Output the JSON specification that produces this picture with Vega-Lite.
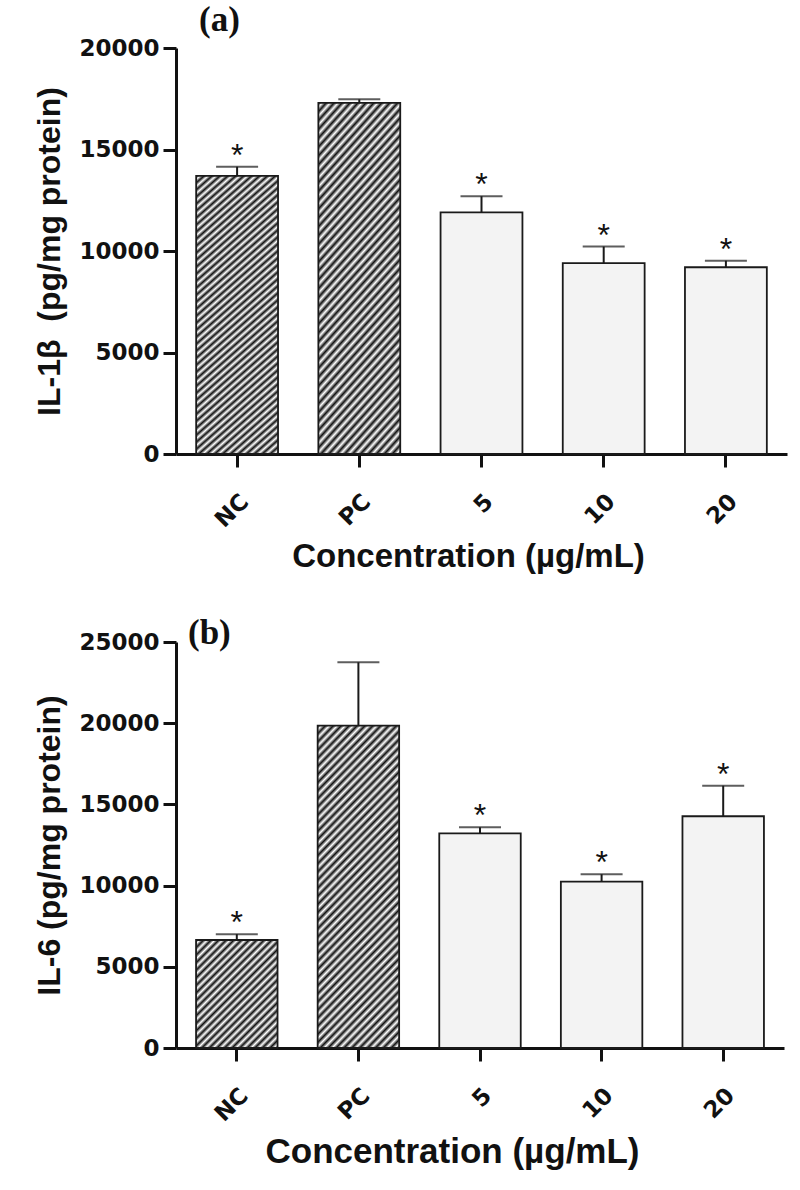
{
  "$schema": "https://vega.github.io/schema/vega-lite/v6.json",
  "padding": {"left": 33, "top": 3, "right": 5, "bottom": 5},
  "background": "white",
  "spacing": 42,
  "align": "none",
  "config": {
    "view": {"stroke": null},
    "font": "Liberation Sans",
    "axis": {"domainColor": "#111", "domainWidth": 3, "tickColor": "#111", "tickWidth": 3, "tickSize": 13, "grid": false, "labelFont": "DejaVu Sans", "labelFontWeight": "bold", "labelFontSize": 23, "labelColor": "#111", "titleFont": "Liberation Sans", "titleFontWeight": "bold", "titleColor": "#111"},
    "axisY": {"titleFontSize": 32, "labelPadding": 4, "titlePadding": 12, "format": "d"},
    "axisX": {"titleFontSize": 33, "labelAngle": -45, "labelPadding": 23, "titlePadding": 9}
  },
  "vconcat": [
    {
      "width": 611,
      "height": 406,
      "title": {"text": "(a)", "font": "Liberation Serif", "fontSize": 35, "fontWeight": "bold", "color": "#111", "anchor": "start", "frame": "group", "dx": 23, "offset": -29, "baseline": "alphabetic"},
      "data": {"values": [
        {"label": "NC", "type": "ctrl", "mean": 13700, "upper": 14150, "star": "*"},
        {"label": "PC", "type": "ctrl", "mean": 17300, "upper": 17470, "star": ""},
        {"label": "5", "type": "trt", "mean": 11900, "upper": 12700, "star": "*"},
        {"label": "10", "type": "trt", "mean": 9400, "upper": 10220, "star": "*"},
        {"label": "20", "type": "trt", "mean": 9200, "upper": 9520, "star": "*"}
      ]},
      "encoding": {
        "x": {"field": "label", "type": "nominal", "sort": ["NC", "PC", "5", "10", "20"], "scale": {"paddingInner": 0.33, "paddingOuter": 0.165}, "axis": {"title": "Concentration (µg/mL)", "titleX": 292}},
        "y": {"field": "mean", "type": "quantitative", "scale": {"domain": [0, 20000], "nice": false}, "axis": {"title": "IL-1β\u00a0\u00a0(pg/mg protein)", "values": [0, 5000, 10000, 15000, 20000]}}
      },
      "layer": [
        {"transform": [{"filter": "datum.type === 'ctrl'"}], "mark": {"type": "bar", "stroke": "#1a1a1a", "strokeWidth": 1.8, "fill": {"gradient": "linear", "x1": 0, "y1": 0, "x2": 0.3069, "y2": 1.1802, "stops": [
        {"offset":0,"color":"#111"},{"offset":0.01,"color":"#fff"},{"offset":0.02,"color":"#111"},{"offset":0.03,"color":"#fff"},{"offset":0.04,"color":"#111"},{"offset":0.05,"color":"#fff"},{"offset":0.06,"color":"#111"},{"offset":0.07,"color":"#fff"},{"offset":0.08,"color":"#111"},{"offset":0.09,"color":"#fff"},
        {"offset":0.1,"color":"#111"},{"offset":0.11,"color":"#fff"},{"offset":0.12,"color":"#111"},{"offset":0.13,"color":"#fff"},{"offset":0.14,"color":"#111"},{"offset":0.15,"color":"#fff"},{"offset":0.16,"color":"#111"},{"offset":0.17,"color":"#fff"},{"offset":0.18,"color":"#111"},{"offset":0.19,"color":"#fff"},
        {"offset":0.2,"color":"#111"},{"offset":0.21,"color":"#fff"},{"offset":0.22,"color":"#111"},{"offset":0.23,"color":"#fff"},{"offset":0.24,"color":"#111"},{"offset":0.25,"color":"#fff"},{"offset":0.26,"color":"#111"},{"offset":0.27,"color":"#fff"},{"offset":0.28,"color":"#111"},{"offset":0.29,"color":"#fff"},
        {"offset":0.3,"color":"#111"},{"offset":0.31,"color":"#fff"},{"offset":0.32,"color":"#111"},{"offset":0.33,"color":"#fff"},{"offset":0.34,"color":"#111"},{"offset":0.35,"color":"#fff"},{"offset":0.36,"color":"#111"},{"offset":0.37,"color":"#fff"},{"offset":0.38,"color":"#111"},{"offset":0.39,"color":"#fff"},
        {"offset":0.4,"color":"#111"},{"offset":0.41,"color":"#fff"},{"offset":0.42,"color":"#111"},{"offset":0.43,"color":"#fff"},{"offset":0.44,"color":"#111"},{"offset":0.45,"color":"#fff"},{"offset":0.46,"color":"#111"},{"offset":0.47,"color":"#fff"},{"offset":0.48,"color":"#111"},{"offset":0.49,"color":"#fff"},
        {"offset":0.5,"color":"#111"},{"offset":0.51,"color":"#fff"},{"offset":0.52,"color":"#111"},{"offset":0.53,"color":"#fff"},{"offset":0.54,"color":"#111"},{"offset":0.55,"color":"#fff"},{"offset":0.56,"color":"#111"},{"offset":0.57,"color":"#fff"},{"offset":0.58,"color":"#111"},{"offset":0.59,"color":"#fff"},
        {"offset":0.6,"color":"#111"},{"offset":0.61,"color":"#fff"},{"offset":0.62,"color":"#111"},{"offset":0.63,"color":"#fff"},{"offset":0.64,"color":"#111"},{"offset":0.65,"color":"#fff"},{"offset":0.66,"color":"#111"},{"offset":0.67,"color":"#fff"},{"offset":0.68,"color":"#111"},{"offset":0.69,"color":"#fff"},
        {"offset":0.7,"color":"#111"},{"offset":0.71,"color":"#fff"},{"offset":0.72,"color":"#111"},{"offset":0.73,"color":"#fff"},{"offset":0.74,"color":"#111"},{"offset":0.75,"color":"#fff"},{"offset":0.76,"color":"#111"},{"offset":0.77,"color":"#fff"},{"offset":0.78,"color":"#111"},{"offset":0.79,"color":"#fff"},
        {"offset":0.8,"color":"#111"},{"offset":0.81,"color":"#fff"},{"offset":0.82,"color":"#111"},{"offset":0.83,"color":"#fff"},{"offset":0.84,"color":"#111"},{"offset":0.85,"color":"#fff"},{"offset":0.86,"color":"#111"},{"offset":0.87,"color":"#fff"},{"offset":0.88,"color":"#111"},{"offset":0.89,"color":"#fff"},
        {"offset":0.9,"color":"#111"},{"offset":0.91,"color":"#fff"},{"offset":0.92,"color":"#111"},{"offset":0.93,"color":"#fff"},{"offset":0.94,"color":"#111"},{"offset":0.95,"color":"#fff"},{"offset":0.96,"color":"#111"},{"offset":0.97,"color":"#fff"},{"offset":0.98,"color":"#111"},{"offset":0.99,"color":"#fff"},
        {"offset":1,"color":"#111"}]}}},
        {"transform": [{"filter": "datum.type === 'trt'"}], "mark": {"type": "bar", "fill": "#f3f3f3", "stroke": "#1a1a1a", "strokeWidth": 1.8}},
        {"mark": {"type": "rule", "color": "#1a1a1a", "strokeWidth": 2}, "encoding": {"y2": {"field": "upper"}}},
        {"mark": {"type": "tick", "color": "#1a1a1a", "thickness": 2, "size": 42}, "encoding": {"y": {"field": "upper", "type": "quantitative"}}},
        {"mark": {"type": "text", "font": "Liberation Sans", "fontSize": 32, "color": "#111", "baseline": "alphabetic", "dy": -1}, "encoding": {"y": {"field": "upper", "type": "quantitative"}, "text": {"field": "star"}}}
      ]
    },
    {
      "width": 608,
      "height": 406,
      "title": {"text": "(b)", "font": "Liberation Serif", "fontSize": 35, "fontWeight": "bold", "color": "#111", "anchor": "start", "frame": "group", "dx": 12, "offset": -48, "baseline": "alphabetic"},
      "data": {"values": [
        {"label": "NC", "type": "ctrl2", "mean": 6650, "upper": 7010, "star": "*"},
        {"label": "PC", "type": "ctrl", "mean": 19850, "upper": 23750, "star": ""},
        {"label": "5", "type": "trt", "mean": 13220, "upper": 13590, "star": "*"},
        {"label": "10", "type": "trt", "mean": 10240, "upper": 10700, "star": "*"},
        {"label": "20", "type": "trt", "mean": 14270, "upper": 16150, "star": "*"}
      ]},
      "encoding": {
        "x": {"field": "label", "type": "nominal", "sort": ["NC", "PC", "5", "10", "20"], "scale": {"paddingInner": 0.33, "paddingOuter": 0.165}, "axis": {"title": "Concentration (µg/mL)", "titleX": 276, "titleFontSize": 35}},
        "y": {"field": "mean", "type": "quantitative", "scale": {"domain": [0, 25000], "nice": false}, "axis": {"title": "IL-6 (pg/mg protein)", "values": [0, 5000, 10000, 15000, 20000, 25000]}}
      },
      "layer": [
        {"transform": [{"filter": "datum.type === 'ctrl'"}], "mark": {"type": "bar", "stroke": "#1a1a1a", "strokeWidth": 1.8, "fill": {"gradient": "linear", "x1": 0, "y1": 0, "x2": 0.3069, "y2": 1.1802, "stops": [
        {"offset":0,"color":"#111"},{"offset":0.01,"color":"#fff"},{"offset":0.02,"color":"#111"},{"offset":0.03,"color":"#fff"},{"offset":0.04,"color":"#111"},{"offset":0.05,"color":"#fff"},{"offset":0.06,"color":"#111"},{"offset":0.07,"color":"#fff"},{"offset":0.08,"color":"#111"},{"offset":0.09,"color":"#fff"},
        {"offset":0.1,"color":"#111"},{"offset":0.11,"color":"#fff"},{"offset":0.12,"color":"#111"},{"offset":0.13,"color":"#fff"},{"offset":0.14,"color":"#111"},{"offset":0.15,"color":"#fff"},{"offset":0.16,"color":"#111"},{"offset":0.17,"color":"#fff"},{"offset":0.18,"color":"#111"},{"offset":0.19,"color":"#fff"},
        {"offset":0.2,"color":"#111"},{"offset":0.21,"color":"#fff"},{"offset":0.22,"color":"#111"},{"offset":0.23,"color":"#fff"},{"offset":0.24,"color":"#111"},{"offset":0.25,"color":"#fff"},{"offset":0.26,"color":"#111"},{"offset":0.27,"color":"#fff"},{"offset":0.28,"color":"#111"},{"offset":0.29,"color":"#fff"},
        {"offset":0.3,"color":"#111"},{"offset":0.31,"color":"#fff"},{"offset":0.32,"color":"#111"},{"offset":0.33,"color":"#fff"},{"offset":0.34,"color":"#111"},{"offset":0.35,"color":"#fff"},{"offset":0.36,"color":"#111"},{"offset":0.37,"color":"#fff"},{"offset":0.38,"color":"#111"},{"offset":0.39,"color":"#fff"},
        {"offset":0.4,"color":"#111"},{"offset":0.41,"color":"#fff"},{"offset":0.42,"color":"#111"},{"offset":0.43,"color":"#fff"},{"offset":0.44,"color":"#111"},{"offset":0.45,"color":"#fff"},{"offset":0.46,"color":"#111"},{"offset":0.47,"color":"#fff"},{"offset":0.48,"color":"#111"},{"offset":0.49,"color":"#fff"},
        {"offset":0.5,"color":"#111"},{"offset":0.51,"color":"#fff"},{"offset":0.52,"color":"#111"},{"offset":0.53,"color":"#fff"},{"offset":0.54,"color":"#111"},{"offset":0.55,"color":"#fff"},{"offset":0.56,"color":"#111"},{"offset":0.57,"color":"#fff"},{"offset":0.58,"color":"#111"},{"offset":0.59,"color":"#fff"},
        {"offset":0.6,"color":"#111"},{"offset":0.61,"color":"#fff"},{"offset":0.62,"color":"#111"},{"offset":0.63,"color":"#fff"},{"offset":0.64,"color":"#111"},{"offset":0.65,"color":"#fff"},{"offset":0.66,"color":"#111"},{"offset":0.67,"color":"#fff"},{"offset":0.68,"color":"#111"},{"offset":0.69,"color":"#fff"},
        {"offset":0.7,"color":"#111"},{"offset":0.71,"color":"#fff"},{"offset":0.72,"color":"#111"},{"offset":0.73,"color":"#fff"},{"offset":0.74,"color":"#111"},{"offset":0.75,"color":"#fff"},{"offset":0.76,"color":"#111"},{"offset":0.77,"color":"#fff"},{"offset":0.78,"color":"#111"},{"offset":0.79,"color":"#fff"},
        {"offset":0.8,"color":"#111"},{"offset":0.81,"color":"#fff"},{"offset":0.82,"color":"#111"},{"offset":0.83,"color":"#fff"},{"offset":0.84,"color":"#111"},{"offset":0.85,"color":"#fff"},{"offset":0.86,"color":"#111"},{"offset":0.87,"color":"#fff"},{"offset":0.88,"color":"#111"},{"offset":0.89,"color":"#fff"},
        {"offset":0.9,"color":"#111"},{"offset":0.91,"color":"#fff"},{"offset":0.92,"color":"#111"},{"offset":0.93,"color":"#fff"},{"offset":0.94,"color":"#111"},{"offset":0.95,"color":"#fff"},{"offset":0.96,"color":"#111"},{"offset":0.97,"color":"#fff"},{"offset":0.98,"color":"#111"},{"offset":0.99,"color":"#fff"},
        {"offset":1,"color":"#111"}]}}},
        {"transform": [{"filter": "datum.type === 'ctrl2'"}], "mark": {"type": "bar", "stroke": "#1a1a1a", "strokeWidth": 1.8, "fill": {"gradient": "linear", "x1": 0, "y1": 0, "x2": 1.687, "y2": 2.236, "stops": [
        {"offset":0,"color":"#111"},{"offset":0.01,"color":"#fff"},{"offset":0.02,"color":"#111"},{"offset":0.03,"color":"#fff"},{"offset":0.04,"color":"#111"},{"offset":0.05,"color":"#fff"},{"offset":0.06,"color":"#111"},{"offset":0.07,"color":"#fff"},{"offset":0.08,"color":"#111"},{"offset":0.09,"color":"#fff"},
        {"offset":0.1,"color":"#111"},{"offset":0.11,"color":"#fff"},{"offset":0.12,"color":"#111"},{"offset":0.13,"color":"#fff"},{"offset":0.14,"color":"#111"},{"offset":0.15,"color":"#fff"},{"offset":0.16,"color":"#111"},{"offset":0.17,"color":"#fff"},{"offset":0.18,"color":"#111"},{"offset":0.19,"color":"#fff"},
        {"offset":0.2,"color":"#111"},{"offset":0.21,"color":"#fff"},{"offset":0.22,"color":"#111"},{"offset":0.23,"color":"#fff"},{"offset":0.24,"color":"#111"},{"offset":0.25,"color":"#fff"},{"offset":0.26,"color":"#111"},{"offset":0.27,"color":"#fff"},{"offset":0.28,"color":"#111"},{"offset":0.29,"color":"#fff"},
        {"offset":0.3,"color":"#111"},{"offset":0.31,"color":"#fff"},{"offset":0.32,"color":"#111"},{"offset":0.33,"color":"#fff"},{"offset":0.34,"color":"#111"},{"offset":0.35,"color":"#fff"},{"offset":0.36,"color":"#111"},{"offset":0.37,"color":"#fff"},{"offset":0.38,"color":"#111"},{"offset":0.39,"color":"#fff"},
        {"offset":0.4,"color":"#111"},{"offset":0.41,"color":"#fff"},{"offset":0.42,"color":"#111"},{"offset":0.43,"color":"#fff"},{"offset":0.44,"color":"#111"},{"offset":0.45,"color":"#fff"},{"offset":0.46,"color":"#111"},{"offset":0.47,"color":"#fff"},{"offset":0.48,"color":"#111"},{"offset":0.49,"color":"#fff"},
        {"offset":0.5,"color":"#111"},{"offset":0.51,"color":"#fff"},{"offset":0.52,"color":"#111"},{"offset":0.53,"color":"#fff"},{"offset":0.54,"color":"#111"},{"offset":0.55,"color":"#fff"},{"offset":0.56,"color":"#111"},{"offset":0.57,"color":"#fff"},{"offset":0.58,"color":"#111"},{"offset":0.59,"color":"#fff"},
        {"offset":0.6,"color":"#111"},{"offset":0.61,"color":"#fff"},{"offset":0.62,"color":"#111"},{"offset":0.63,"color":"#fff"},{"offset":0.64,"color":"#111"},{"offset":0.65,"color":"#fff"},{"offset":0.66,"color":"#111"},{"offset":0.67,"color":"#fff"},{"offset":0.68,"color":"#111"},{"offset":0.69,"color":"#fff"},
        {"offset":0.7,"color":"#111"},{"offset":0.71,"color":"#fff"},{"offset":0.72,"color":"#111"},{"offset":0.73,"color":"#fff"},{"offset":0.74,"color":"#111"},{"offset":0.75,"color":"#fff"},{"offset":0.76,"color":"#111"},{"offset":0.77,"color":"#fff"},{"offset":0.78,"color":"#111"},{"offset":0.79,"color":"#fff"},
        {"offset":0.8,"color":"#111"},{"offset":0.81,"color":"#fff"},{"offset":0.82,"color":"#111"},{"offset":0.83,"color":"#fff"},{"offset":0.84,"color":"#111"},{"offset":0.85,"color":"#fff"},{"offset":0.86,"color":"#111"},{"offset":0.87,"color":"#fff"},{"offset":0.88,"color":"#111"},{"offset":0.89,"color":"#fff"},
        {"offset":0.9,"color":"#111"},{"offset":0.91,"color":"#fff"},{"offset":0.92,"color":"#111"},{"offset":0.93,"color":"#fff"},{"offset":0.94,"color":"#111"},{"offset":0.95,"color":"#fff"},{"offset":0.96,"color":"#111"},{"offset":0.97,"color":"#fff"},{"offset":0.98,"color":"#111"},{"offset":0.99,"color":"#fff"},
        {"offset":1,"color":"#111"}]}}},
        {"transform": [{"filter": "datum.type === 'trt'"}], "mark": {"type": "bar", "fill": "#f3f3f3", "stroke": "#1a1a1a", "strokeWidth": 1.8}},
        {"mark": {"type": "rule", "color": "#1a1a1a", "strokeWidth": 2}, "encoding": {"y2": {"field": "upper"}}},
        {"mark": {"type": "tick", "color": "#1a1a1a", "thickness": 2, "size": 42}, "encoding": {"y": {"field": "upper", "type": "quantitative"}}},
        {"mark": {"type": "text", "font": "Liberation Sans", "fontSize": 32, "color": "#111", "baseline": "alphabetic", "dy": -1}, "encoding": {"y": {"field": "upper", "type": "quantitative"}, "text": {"field": "star"}}}
      ]
    }
  ]
}
